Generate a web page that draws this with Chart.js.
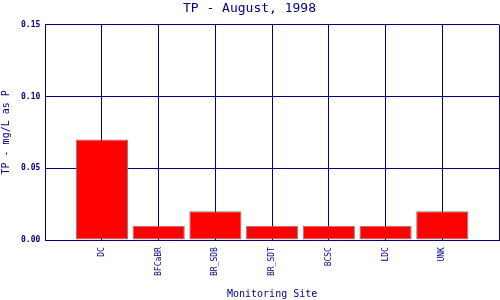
<!DOCTYPE html>
<html>
<head>
<meta charset="utf-8">
<script src="https://cdn.jsdelivr.net/npm/chart.js@4"></script>
<style>
  html, body { margin: 0; padding: 0; background: #fff; }
  #wrap { width: 500px; height: 300px; }
</style>
</head>
<body>
<div id="wrap"><canvas id="tpChart"></canvas></div>
<script>
// sites and TP values (mg/L as P)
const sites = ['DC', 'BFCaBR', 'BR_SDB', 'BR_SDT', 'BCSC', 'LDC', 'UNK'];
const tpValues = [0.07, 0.01, 0.02, 0.01, 0.01, 0.01, 0.02];
const yTicks = [0, 0.05, 0.10, 0.15];

const navy = '#000080';
const mono = "'DejaVu Sans Mono', 'Liberation Mono', monospace";

// sites sit at x = 1..n on a linear axis, leaving a full slot on each side
const points = tpValues.map((v, i) => ({ x: i + 1, y: v }));

new Chart(document.getElementById('tpChart'), {
    type: 'bar',
    data: {
        datasets: [{
            data: points,
            backgroundColor: '#ff0000',
            borderColor: '#808080',
            borderWidth: 1,
            borderSkipped: false,
            barPercentage: 0.92,
            categoryPercentage: 1
        }]
    },
    options: {
        responsive: true,
        maintainAspectRatio: false,
        animation: false,
        layout: { padding: { left: 0, right: 1, top: 0, bottom: 0 } },
        scales: {
            x: {
                type: 'linear',
                offset: false,
                min: 0,
                max: sites.length + 1,
                grid: { color: navy, lineWidth: 1, drawTicks: false, offset: false },
                border: { color: navy, width: 1 },
                afterFit: function(scale) {
                    // edge labels are empty, no need for side padding
                    scale.paddingLeft = 0;
                    scale.paddingRight = 0;
                },
                ticks: {
                    stepSize: 1,
                    autoSkip: false,
                    minRotation: 90,
                    maxRotation: 90,
                    padding: 7,
                    color: navy,
                    font: { family: mono, size: 8 },
                    callback: function(value) {
                        return sites[value - 1] || '';
                    }
                },
                title: {
                    display: true,
                    text: 'Monitoring Site',
                    color: navy,
                    font: { family: mono, size: 10 },
                    padding: { top: 5, bottom: 0 }
                }
            },
            y: {
                min: 0,
                max: yTicks[yTicks.length - 1],
                afterBuildTicks: function(axis) {
                    axis.ticks = yTicks.map(v => ({ value: v }));
                },
                grid: { color: navy, lineWidth: 1, drawTicks: false },
                border: { color: navy, width: 1 },
                ticks: {
                    padding: 5,
                    color: navy,
                    font: { family: mono, size: 8, weight: 'bold' },
                    callback: function(value) {
                        return value.toFixed(2);
                    }
                },
                title: {
                    display: true,
                    text: 'TP - mg/L as P',
                    color: navy,
                    font: { family: mono, size: 10 },
                    padding: { top: 0, bottom: 4 }
                }
            }
        },
        plugins: {
            legend: { display: false },
            tooltip: { enabled: false },
            title: {
                display: true,
                text: 'TP - August, 1998',
                color: navy,
                font: { family: mono, size: 13, weight: 'normal' },
                padding: { top: 1, bottom: 8 }
            }
        }
    }
});
</script>
</body>
</html>
